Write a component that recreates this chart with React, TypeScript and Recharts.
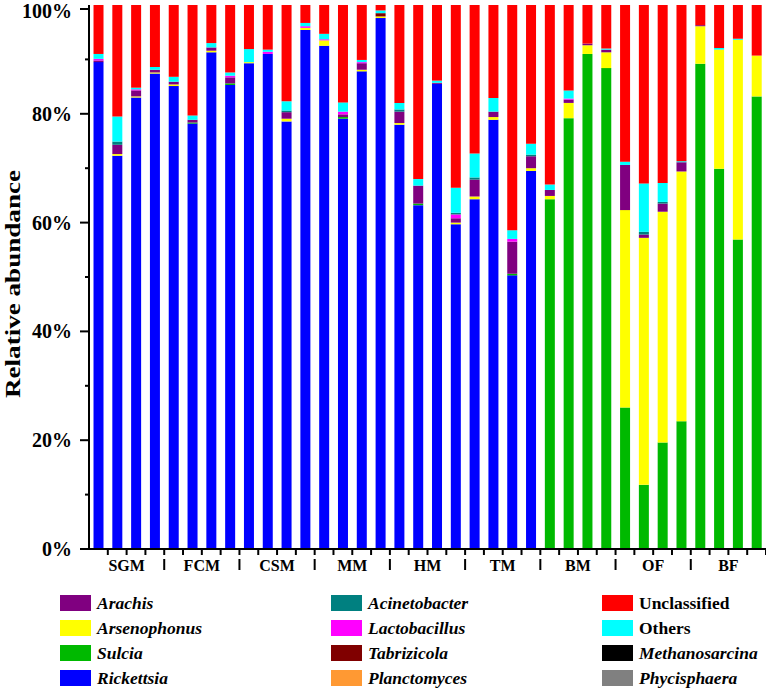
import { Bar, BarChart, XAxis, YAxis } from "recharts";

// 36 samples, 4 per group
const groups = ["SGM", "FCM", "CSM", "MM", "HM", "TM", "BM", "OF", "BF"];
const samples = groups.flatMap((g) => [1, 2, 3, 4].map((i) => `${g}${i}`));

// relative abundance (%) per sample, bottom to top of the stack
const rickettsia = [
  89.5, 72.3, 83.0, 87.4, 85.1, 78.2, 91.3, 85.3, 89.3, 91.0, 78.6, 95.4,
  92.5, 79.1, 87.8, 97.6, 78.0, 63.2, 85.5, 59.7, 64.3, 78.9, 50.3, 69.5,
  0, 0, 0, 0, 0, 0, 0, 0, 0, 0, 0, 0,
];
const sulcia = [
  0, 0, 0, 0, 0, 0.2, 0, 0.3, 0, 0, 0, 0,
  0, 0.3, 0, 0, 0, 0.3, 0, 0, 0, 0, 0.3, 0,
  64.3, 79.2, 91.0, 88.4, 26.0, 11.8, 19.6, 23.5, 89.2, 69.9, 56.9, 83.2,
];
const arsenophonus = [
  0, 0.3, 0.2, 0.2, 0.3, 0, 0.3, 0, 0.2, 0, 0.5, 0.4,
  1.0, 0, 0.3, 0.3, 0.3, 0, 0, 0.3, 0.5, 0.5, 0, 0.5,
  0.6, 2.8, 1.6, 2.9, 36.3, 45.4, 42.4, 45.9, 6.9, 21.9, 36.7, 7.5,
];
const planctomyces = [
  0, 0, 0, 0, 0, 0, 0, 0, 0, 0, 0, 0,
  0, 0, 0, 0, 0, 0, 0, 0, 0, 0, 0, 0,
  0, 0, 0, 0, 0, 0, 0, 0, 0, 0, 0, 0,
];
const phycisphaera = [
  0, 0, 0, 0, 0, 0, 0, 0, 0, 0, 0, 0,
  0, 0, 0, 0, 0, 0, 0, 0, 0, 0, 0, 0,
  0, 0, 0, 0, 0, 0, 0, 0, 0, 0, 0, 0,
];
const methanosarcina = [
  0, 0, 0, 0, 0, 0, 0, 0, 0, 0, 0, 0,
  0, 0, 0, 0, 0, 0, 0, 0, 0, 0, 0, 0,
  0, 0, 0, 0, 0, 0, 0, 0, 0, 0, 0, 0,
];
const tabrizicola = [
  0, 0, 0, 0, 0, 0, 0, 0, 0, 0, 0, 0,
  0, 0, 0, 0.6, 0, 0, 0, 0, 0, 0, 0, 0,
  0, 0, 0, 0, 0, 0, 0, 0, 0, 0, 0, 0,
];
const arachis = [
  0.3, 1.7, 1.1, 0.5, 0.5, 0.5, 0.6, 1.1, 0, 0, 1.2, 0,
  0, 0.5, 1.2, 0, 2.1, 3.3, 0.2, 0.8, 3.1, 1.0, 5.9, 2.2,
  1.1, 0.6, 0.3, 0.5, 8.3, 0.6, 1.5, 1.7, 0.2, 0, 0, 0,
];
const lactobacillus = [
  0.3, 0, 0.2, 0, 0, 0, 0, 0.3, 0, 0.4, 0, 0.3,
  0.2, 0.5, 0.2, 0, 0, 0, 0, 0.7, 0, 0, 0.5, 0,
  0, 0.2, 0, 0, 0, 0, 0, 0, 0, 0, 0, 0,
];
const acinetobacter = [
  0, 0.6, 0, 0, 0, 0, 0, 0, 0, 0, 0.3, 0,
  0, 0, 0, 0, 0.4, 0, 0, 0.3, 0.4, 0, 0, 0.3,
  0, 0, 0, 0, 0, 0.5, 0.3, 0, 0, 0, 0, 0,
];
const others = [
  0.9, 4.6, 0.3, 0.5, 0.9, 0.8, 0.8, 0.6, 2.4, 0.4, 1.7, 0.6,
  1.0, 1.7, 0.4, 0.5, 1.2, 1.2, 0.4, 4.6, 4.4, 2.5, 1.6, 2.0,
  1.0, 1.5, 0, 0.2, 0.6, 8.9, 3.5, 0.2, 0, 0.3, 0.2, 0,
];
const unclassified = [
  9.0, 20.5, 15.2, 11.4, 13.2, 20.3, 7.0, 12.4, 8.1, 8.2, 17.7, 3.3,
  5.3, 17.9, 10.1, 1.0, 18.0, 32.0, 13.9, 33.6, 27.3, 17.1, 41.4, 25.5,
  33.0, 15.7, 7.1, 8.0, 28.8, 32.8, 32.7, 28.7, 3.7, 7.9, 6.2, 9.3,
];

const yTicks = [0, 10, 20, 30, 40, 50, 60, 70, 80, 90, 100];

const series = [
  { key: "Rickettsia", values: rickettsia, color: "#0000FF", italic: true },
  { key: "Sulcia", values: sulcia, color: "#00B900", italic: true },
  { key: "Arsenophonus", values: arsenophonus, color: "#FFFF00", italic: true },
  { key: "Planctomyces", values: planctomyces, color: "#FF9933", italic: true },
  { key: "Phycisphaera", values: phycisphaera, color: "#808080", italic: true },
  { key: "Methanosarcina", values: methanosarcina, color: "#000000", italic: true },
  { key: "Tabrizicola", values: tabrizicola, color: "#800000", italic: true },
  { key: "Arachis", values: arachis, color: "#800080", italic: true },
  { key: "Lactobacillus", values: lactobacillus, color: "#FF00FF", italic: true },
  { key: "Acinetobacter", values: acinetobacter, color: "#008080", italic: true },
  { key: "Others", values: others, color: "#00FFFF", italic: false },
  { key: "Unclassified", values: unclassified, color: "#FF0000", italic: false },
];

const legendColumns = [
  ["Arachis", "Arsenophonus", "Sulcia", "Rickettsia"],
  ["Acinetobacter", "Lactobacillus", "Tabrizicola", "Planctomyces"],
  ["Unclassified", "Others", "Methanosarcina", "Phycisphaera"],
];

const data = samples.map((id, i) => {
  const row: Record<string, string | number> = { id };
  series.forEach((s) => {
    row[s.key] = s.values[i];
  });
  return row;
});

const FONT = '"Liberation Serif", "Times New Roman", serif';
const W = 766;
const H = 580;
const AXIS_X = 89;
const PLOT_TOP = 5;
const PLOT_BOTTOM = 549;
const BAND = (W - AXIS_X) / samples.length;

function XTick(props: any) {
  const { x, payload } = props;
  const i = payload.index;
  const edge = x + BAND / 2;
  const inGroup = i % 4;
  return (
    <g>
      <line x1={edge} x2={edge} y1={PLOT_BOTTOM} y2={PLOT_BOTTOM + 6} stroke="#000" strokeWidth={2} />
      {inGroup === 1 && (
        <text x={edge} y={PLOT_BOTTOM + 22} textAnchor="middle" fontFamily={FONT} fontWeight="bold" fontSize={16} fill="#000">
          {groups[Math.floor(i / 4)]}
        </text>
      )}
      {inGroup === 3 && i < samples.length - 1 && (
        <line x1={edge} x2={edge} y1={PLOT_BOTTOM + 10} y2={PLOT_BOTTOM + 21} stroke="#000" strokeWidth={2} />
      )}
    </g>
  );
}

function YTick(props: any) {
  const { y, payload } = props;
  const major = payload.value % 20 === 0;
  return (
    <g>
      <line x1={major ? AXIS_X - 9 : AXIS_X - 4} x2={AXIS_X} y1={y} y2={y} stroke="#000" strokeWidth={2} />
      {major && (
        <text x={72} y={Math.max(y + 7, 18)} textAnchor="end" fontFamily={FONT} fontWeight="bold" fontSize={20} fill="#000">
          {`${payload.value}%`}
        </text>
      )}
    </g>
  );
}

function YTitle() {
  return (
    <text
      x={20}
      y={284}
      transform="rotate(-90 20 284)"
      textAnchor="middle"
      fontFamily={FONT}
      fontWeight="bold"
      fontSize={21}
      textLength={228}
      lengthAdjust="spacingAndGlyphs"
      fill="#000"
    >
      Relative abundance
    </text>
  );
}

function LegendBlock() {
  const colX = [60, 331, 602];
  const rowY = [595, 620, 645, 670];
  return (
    <div style={{ position: "absolute", left: 0, top: 0, width: W, height: 689 }}>
      {legendColumns.map((col, c) =>
        col.map((name, r) => {
          const s = series.find((d) => d.key === name)!;
          return (
            <div key={name} style={{ position: "absolute", left: colX[c], top: rowY[r], display: "flex", alignItems: "center", height: 16 }}>
              <div style={{ width: 31, height: 16, background: s.color }} />
              <span
                style={{
                  marginLeft: 6,
                  fontFamily: FONT,
                  fontWeight: "bold",
                  fontStyle: s.italic ? "italic" : "normal",
                  fontSize: 17.5,
                  lineHeight: "16px",
                  whiteSpace: "nowrap",
                  color: "#000",
                }}
              >
                {name}
              </span>
            </div>
          );
        })
      )}
    </div>
  );
}

export default function App() {
  return (
    <div style={{ position: "absolute", left: 0, top: 0, width: W, height: 689, background: "#fff" }}>
      <BarChart
        width={W}
        height={H}
        data={data}
        margin={{ top: PLOT_TOP, right: 0, bottom: 0, left: 0 }}
        barCategoryGap="24%"
      >
        <XAxis
          dataKey="id"
          interval={0}
          height={H - PLOT_BOTTOM}
          tickLine={false}
          axisLine={{ stroke: "#000", strokeWidth: 2 }}
          tick={<XTick />}
        />
        <YAxis
          type="number"
          domain={[0, 100]}
          ticks={yTicks}
          width={AXIS_X}
          tickLine={false}
          axisLine={{ stroke: "#000", strokeWidth: 2 }}
          tick={<YTick />}
          label={<YTitle />}
        />
        {series.map((s) => (
          <Bar key={s.key} dataKey={s.key} stackId="a" fill={s.color} isAnimationActive={false} />
        ))}
      </BarChart>
      <LegendBlock />
    </div>
  );
}
